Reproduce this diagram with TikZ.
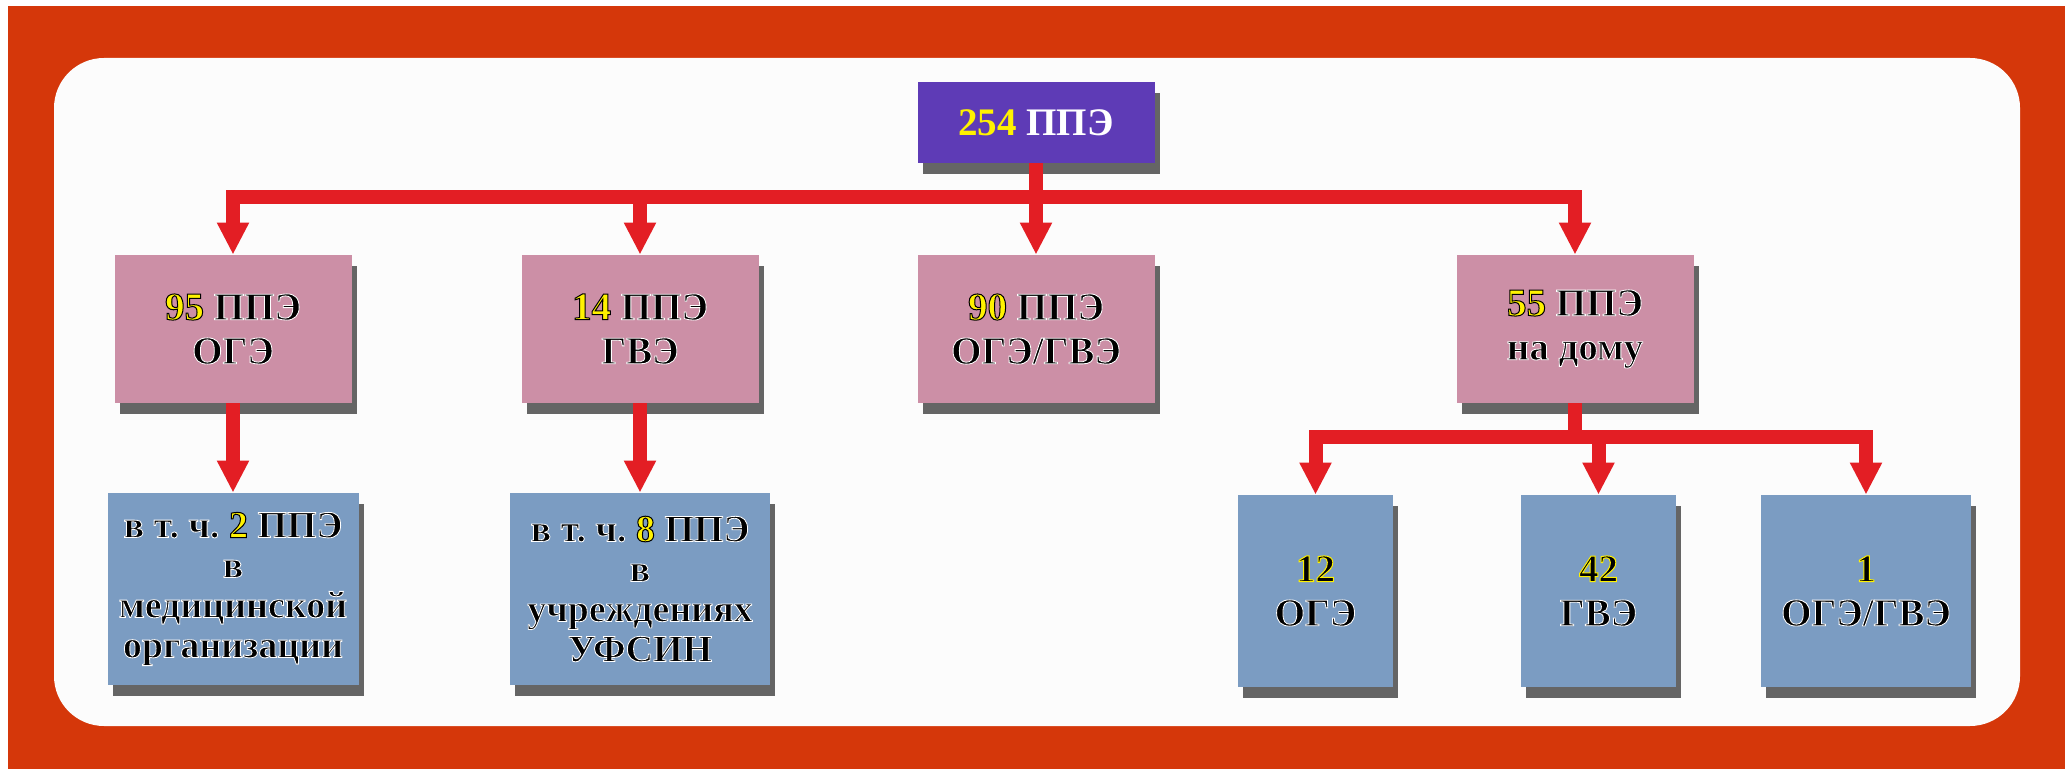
\documentclass[tikz,border=0pt]{standalone}
\usepackage{fontspec}
\setmainfont{Liberation Serif}
\usetikzlibrary{arrows.meta,shadows}
\frenchspacing
\definecolor{orng}{HTML}{D5370A}
\definecolor{panel}{HTML}{FCFCFC}
\definecolor{redc}{HTML}{E31E24}
\definecolor{purp}{HTML}{5E3BB6}
\definecolor{pinkc}{HTML}{CC8FA6}
\definecolor{bluec}{HTML}{7B9CC2}
\definecolor{yel}{HTML}{FFF200}
\newcommand\wo[1]{\special{pdf:literal direct 1 1 1 RG 0.42 w 2 Tr}#1\special{pdf:literal direct 0 Tr}}
\newcommand\yn[1]{{\color{yel}\special{pdf:literal direct 0 0 0 RG 0.5 w 2 Tr}#1\special{pdf:literal direct 0 Tr}}}
\newcommand\ky[1]{{\color{black}\special{pdf:literal direct 1 0.95 0 RG 0.5 w 2 Tr}#1\special{pdf:literal direct 0 Tr}}}
\begin{document}
\begin{tikzpicture}[x=0.5pt,y=-0.5pt,
  boxbase/.style={rectangle, inner sep=0pt, align=center, text=black,
    font=\fontsize{19.5}{22}\selectfont\bfseries,
    drop shadow={shadow xshift=2.5pt, shadow yshift=-5.5pt, fill=black!85, opacity=0.7}},
  topbox/.style={boxbase, fill=purp, minimum width=118.5pt, minimum height=40.5pt},
  pinkbox/.style={boxbase, fill=pinkc, minimum width=118.5pt, minimum height=74pt},
  bluebox/.style={boxbase, fill=bluec, minimum height=96pt,
    font=\fontsize{19}{20}\selectfont\bfseries},
  arr/.style={draw=redc, line width=7pt, line join=miter, -{Triangle[width=15pt,length=16pt]}},
  bar/.style={draw=redc, line width=7pt, line join=miter}]
\useasboundingbox (0,0) rectangle (2065,769);
\fill[white] (0,0) rectangle (2065,769);
\fill[orng] (8,6) rectangle (2065,769);
\fill[panel, rounded corners=25pt] (54,58) rectangle (2020,726);

\node[topbox] (top) at (1036,122.5) {{\color{yel}254} {\color{white}ППЭ}};

\node[pinkbox] (p1) at (233,329) {\yn{95} \wo{ППЭ}\\\wo{ОГЭ}};
\node[pinkbox] (p2) at (640,329) {\yn{14} \wo{ППЭ}\\\wo{ГВЭ}};
\node[pinkbox] (p3) at (1036,329) {\yn{90} \wo{ППЭ}\\\wo{ОГЭ/ГВЭ}};
\node[pinkbox] (p4) at (1575,329) {\yn{55} \wo{ППЭ}\\\wo{на дому}};

\node[bluebox, minimum width=125.5pt] (b1) at (233,589) {\wo{в т. ч.} \yn{2} \wo{ППЭ}\\\wo{в}\\\wo{медицинской}\\\wo{организации}};
\node[bluebox, minimum width=130pt] (b2) at (640,589) {\wo{в т. ч.} \yn{8} \wo{ППЭ}\\\wo{в}\\\wo{учреждениях}\\\wo{УФСИН}};

\node[bluebox, minimum width=77.5pt, font=\fontsize{19.5}{22}\selectfont\bfseries] (c) at (1315.5,591) {\ky{12}\\\wo{ОГЭ}};
\node[bluebox, minimum width=77.5pt, font=\fontsize{19.5}{22}\selectfont\bfseries] (d) at (1598.5,591) {\ky{42}\\\wo{ГВЭ}};
\node[bluebox, minimum width=105pt, font=\fontsize{19.5}{22}\selectfont\bfseries] (e) at (1866,591) {\ky{1}\\\wo{ОГЭ/ГВЭ}};

\coordinate (j1) at (1036,197);
\coordinate (j2) at (1575,437);

\draw[arr] (top.south) -- (p3.north);
\draw[arr] (j1) -| (p1.north);
\draw[arr] (j1) -| (p2.north);
\draw[arr] (j1) -| (p4.north);

\draw[arr] (p1.south) -- (b1.north);
\draw[arr] (p2.south) -- (b2.north);

\draw[bar] (p4.south) -- (j2);
\draw[arr] (j2) -| (c.north);
\draw[arr] (j2) -| (d.north);
\draw[arr] (j2) -| (e.north);
\end{tikzpicture}
\end{document}
